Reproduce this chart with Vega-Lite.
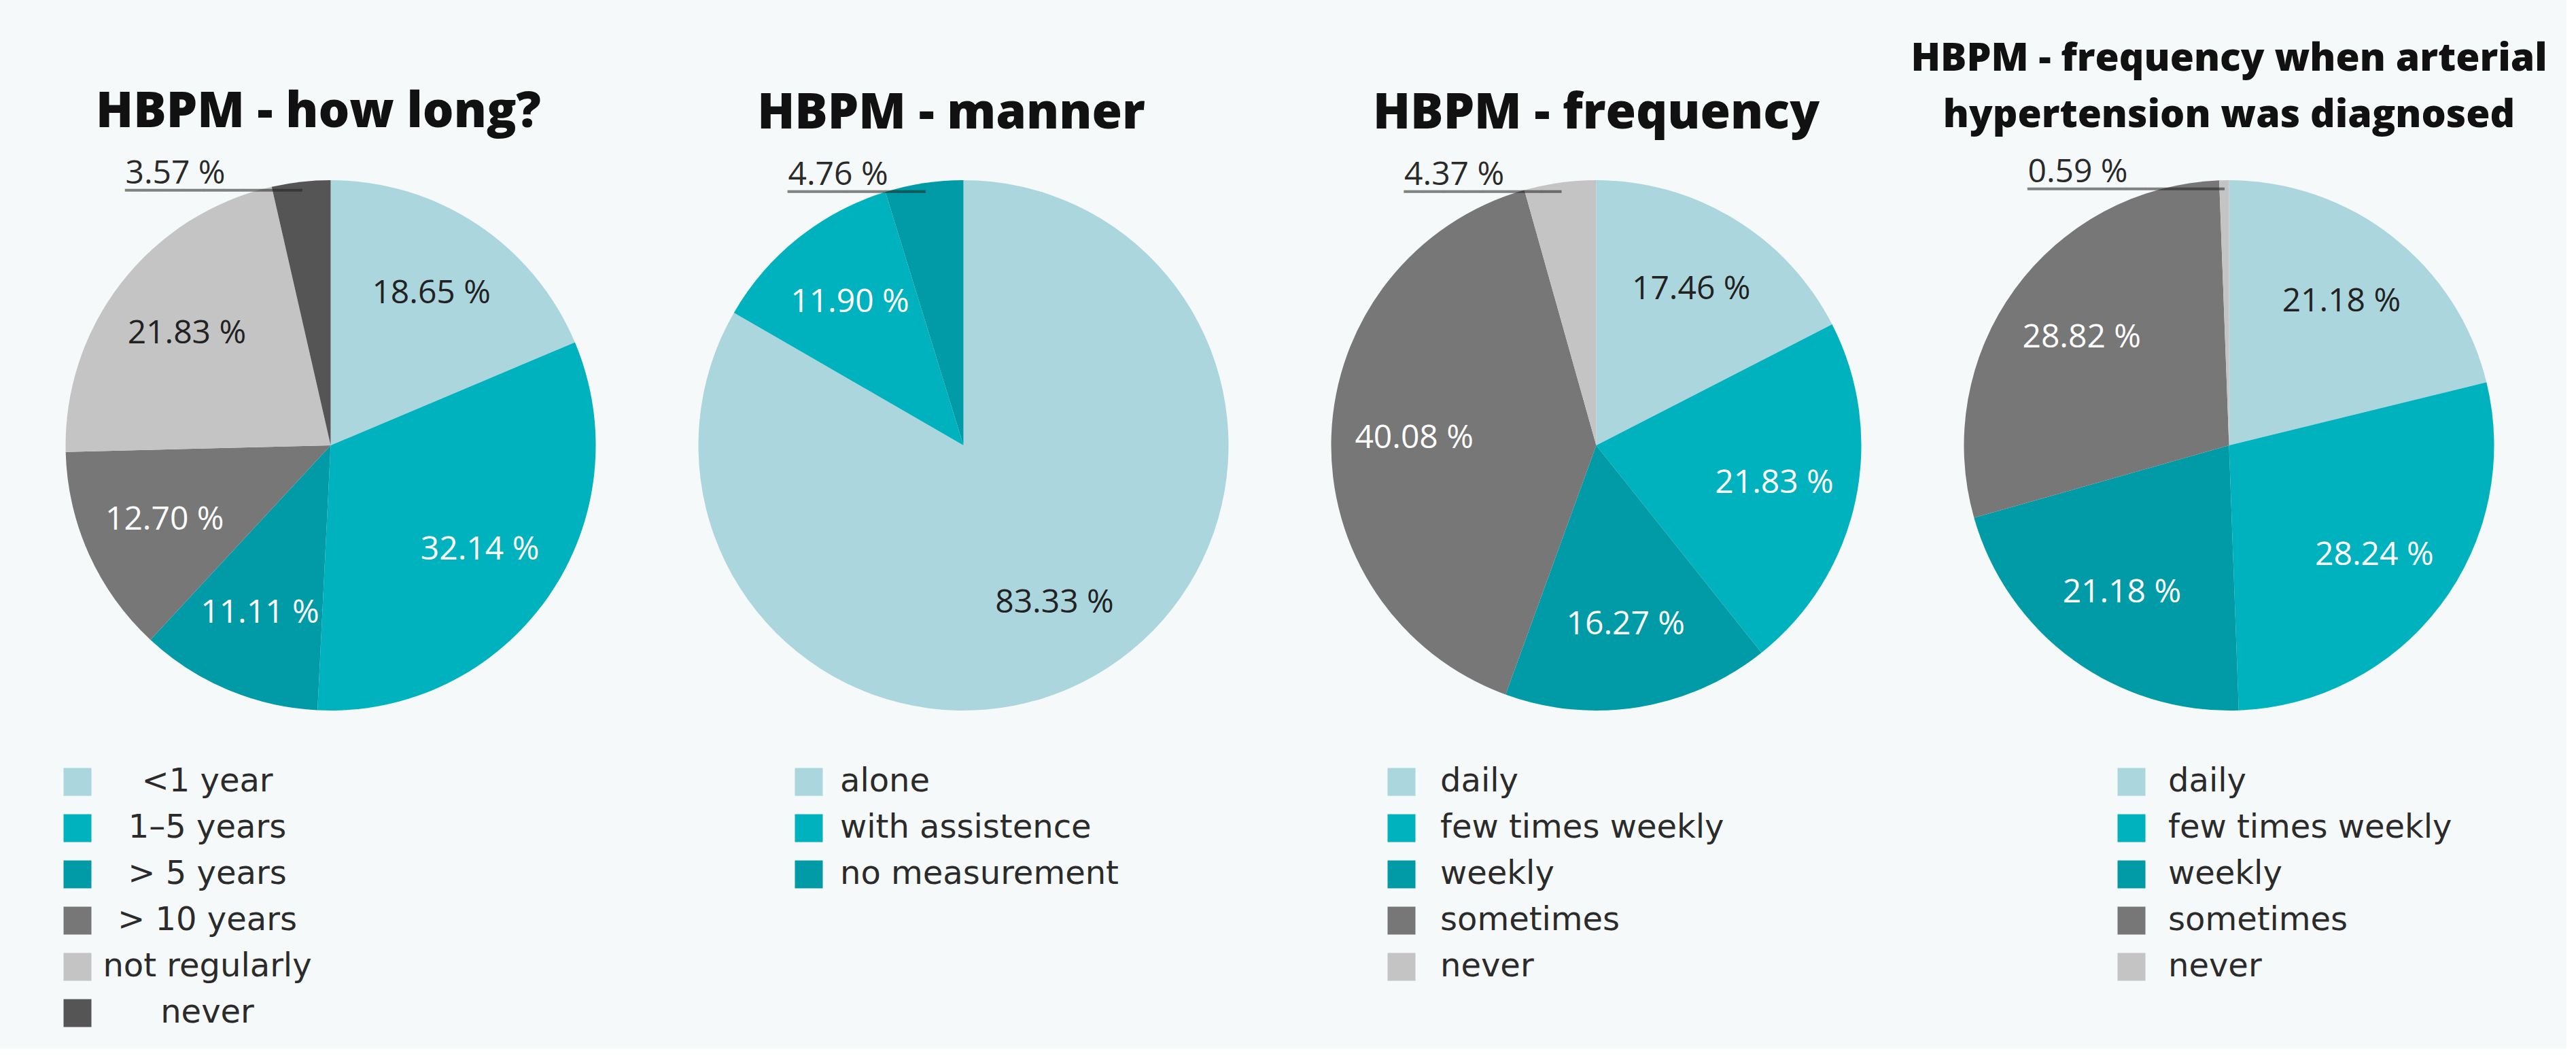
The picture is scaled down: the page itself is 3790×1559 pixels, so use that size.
{
  "$schema": "https://vega.github.io/schema/vega-lite/v6.json",
  "background": "#f6f9f9",
  "padding": {"left": 21, "top": 58, "right": 28, "bottom": 28},
  "spacing": 0,
  "bounds": "flush",
  "datasets": {
    "howlong": [
      {"k": 1, "category": "<1 year", "pct": 18.65, "label": "18.65 %"},
      {"k": 2, "category": "1–5 years", "pct": 32.14, "label": "32.14 %"},
      {"k": 3, "category": "> 5 years", "pct": 11.11, "label": "11.11 %"},
      {"k": 4, "category": "> 10 years", "pct": 12.70, "label": "12.70 %"},
      {"k": 5, "category": "not regularly", "pct": 21.83, "label": "21.83 %"},
      {"k": 6, "category": "never", "pct": 3.57, "label": "3.57 %"}
    ],
    "manner": [
      {"k": 1, "category": "alone", "pct": 83.33, "label": "83.33 %"},
      {"k": 2, "category": "with assistence", "pct": 11.90, "label": "11.90 %"},
      {"k": 3, "category": "no measurement", "pct": 4.76, "label": "4.76 %"}
    ],
    "frequency": [
      {"k": 1, "category": "daily", "pct": 17.46, "label": "17.46 %"},
      {"k": 2, "category": "few times weekly", "pct": 21.83, "label": "21.83 %"},
      {"k": 3, "category": "weekly", "pct": 16.27, "label": "16.27 %"},
      {"k": 4, "category": "sometimes", "pct": 40.08, "label": "40.08 %"},
      {"k": 5, "category": "never", "pct": 4.37, "label": "4.37 %"}
    ],
    "diagnosed": [
      {"k": 1, "category": "daily", "pct": 21.18, "label": "21.18 %"},
      {"k": 2, "category": "few times weekly", "pct": 28.24, "label": "28.24 %"},
      {"k": 3, "category": "weekly", "pct": 21.18, "label": "21.18 %"},
      {"k": 4, "category": "sometimes", "pct": 28.82, "label": "28.82 %"},
      {"k": 5, "category": "never", "pct": 0.59, "label": "0.59 %"}
    ]
  },
  "hconcat": [
    {
      "width": 931, "height": 780,
      "title": {"text": "HBPM - how long?", "dx": -18},
      "data": {"name": "howlong"},
      "encoding": {
        "theta": {"field": "pct", "type": "quantitative", "stack": true},
        "order": {"field": "k", "type": "quantitative"}
      },
      "layer": [
        {
          "mark": {"type": "arc"},
          "encoding": {
            "color": {
              "field": "category", "type": "nominal",
              "scale": {"domain": ["<1 year", "1–5 years", "> 5 years", "> 10 years", "not regularly", "never"],
                        "range": ["#acd6dd", "#00b2be", "#009ba6", "#777777", "#c4c4c4", "#555555"]},
              "legend": {"title": null, "orient": "none", "legendX": 69, "legendY": 861, "labelAlign": "center", "labelOffset": 167}
            }
          }
        },
        {
          "mark": {"type": "text", "radius": 268, "font": "Open Sans", "fontSize": 48, "align": "center", "baseline": "middle"},
          "encoding": {
            "detail": {"field": "category"},
            "text": {"condition": {"test": "datum.pct < 5", "value": ""}, "field": "label", "type": "nominal"},
            "color": {
              "field": "category", "type": "nominal",
              "scale": {"domain": ["<1 year", "1–5 years", "> 5 years", "> 10 years", "not regularly", "never"],
                        "range": ["#222222", "#ffffff", "#ffffff", "#ffffff", "#222222", "#222222"]},
              "legend": null
            }
          }
        },
        {
          "mark": {"type": "text", "radius": 375, "font": "DejaVu Sans", "fontSize": 48, "align": "right", "baseline": "middle", "color": "#222222", "opacity": 0.55},
          "encoding": {
            "detail": {"field": "category"},
            "text": {"condition": {"test": "datum.pct < 5", "value": "─────────"}, "value": ""}
          }
        },
        {
          "mark": {"type": "text", "radius": 375, "font": "Open Sans", "fontSize": 48, "align": "right", "baseline": "alphabetic", "dx": -113, "dy": -12, "color": "#2a2a2a"},
          "encoding": {
            "detail": {"field": "category"},
            "text": {"condition": {"test": "datum.pct < 5", "field": "label", "type": "nominal"}, "value": ""}
          }
        }
      ],
      "resolve": {"scale": {"color": "independent"}}
    },
    {
      "width": 931, "height": 780,
      "title": {"text": "HBPM - manner", "dx": -18},
      "data": {"name": "manner"},
      "encoding": {
        "theta": {"field": "pct", "type": "quantitative", "stack": true},
        "order": {"field": "k", "type": "quantitative"}
      },
      "layer": [
        {
          "mark": {"type": "arc"},
          "encoding": {
            "color": {
              "field": "category", "type": "nominal",
              "scale": {"domain": ["alone", "with assistence", "no measurement"],
                        "range": ["#acd6dd", "#00b2be", "#009ba6"]},
              "legend": {"title": null, "orient": "none", "legendX": 214, "legendY": 861, "labelOffset": 22}
            }
          }
        },
        {
          "mark": {"type": "text", "radius": 268, "font": "Open Sans", "fontSize": 48, "align": "center", "baseline": "middle"},
          "encoding": {
            "detail": {"field": "category"},
            "text": {"condition": {"test": "datum.pct < 5", "value": ""}, "field": "label", "type": "nominal"},
            "color": {
              "field": "category", "type": "nominal",
              "scale": {"domain": ["alone", "with assistence", "no measurement"],
                        "range": ["#222222", "#ffffff", "#222222"]},
              "legend": null
            }
          }
        },
        {
          "mark": {"type": "text", "radius": 375, "font": "DejaVu Sans", "fontSize": 48, "align": "right", "baseline": "middle", "color": "#222222", "opacity": 0.55},
          "encoding": {
            "detail": {"field": "category"},
            "text": {"condition": {"test": "datum.pct < 5", "value": "───────"}, "value": ""}
          }
        },
        {
          "mark": {"type": "text", "radius": 375, "font": "Open Sans", "fontSize": 48, "align": "right", "baseline": "alphabetic", "dx": -55, "dy": -12, "color": "#2a2a2a"},
          "encoding": {
            "detail": {"field": "category"},
            "text": {"condition": {"test": "datum.pct < 5", "field": "label", "type": "nominal"}, "value": ""}
          }
        }
      ],
      "resolve": {"scale": {"color": "independent"}}
    },
    {
      "width": 931, "height": 780,
      "title": {"text": "HBPM - frequency"},
      "data": {"name": "frequency"},
      "encoding": {
        "theta": {"field": "pct", "type": "quantitative", "stack": true},
        "order": {"field": "k", "type": "quantitative"}
      },
      "layer": [
        {
          "mark": {"type": "arc"},
          "encoding": {
            "color": {
              "field": "category", "type": "nominal",
              "scale": {"domain": ["daily", "few times weekly", "weekly", "sometimes", "never"],
                        "range": ["#acd6dd", "#00b2be", "#009ba6", "#777777", "#c4c4c4"]},
              "legend": {"title": null, "orient": "none", "legendX": 155, "legendY": 861, "labelOffset": 33}
            }
          }
        },
        {
          "mark": {"type": "text", "radius": 268, "font": "Open Sans", "fontSize": 48, "align": "center", "baseline": "middle"},
          "encoding": {
            "detail": {"field": "category"},
            "text": {"condition": {"test": "datum.pct < 5", "value": ""}, "field": "label", "type": "nominal"},
            "color": {
              "field": "category", "type": "nominal",
              "scale": {"domain": ["daily", "few times weekly", "weekly", "sometimes", "never"],
                        "range": ["#222222", "#ffffff", "#ffffff", "#ffffff", "#222222"]},
              "legend": null
            }
          }
        },
        {
          "mark": {"type": "text", "radius": 375, "font": "DejaVu Sans", "fontSize": 48, "align": "right", "baseline": "middle", "color": "#222222", "opacity": 0.55},
          "encoding": {
            "detail": {"field": "category"},
            "text": {"condition": {"test": "datum.pct < 5", "value": "────────"}, "value": ""}
          }
        },
        {
          "mark": {"type": "text", "radius": 375, "font": "Open Sans", "fontSize": 48, "align": "right", "baseline": "alphabetic", "dx": -84, "dy": -12, "color": "#2a2a2a"},
          "encoding": {
            "detail": {"field": "category"},
            "text": {"condition": {"test": "datum.pct < 5", "field": "label", "type": "nominal"}, "value": ""}
          }
        }
      ],
      "resolve": {"scale": {"color": "independent"}}
    },
    {
      "width": 931, "height": 780,
      "title": {"text": ["HBPM - frequency when arterial", "hypertension was diagnosed"], "fontSize": 57, "lineHeight": 83, "offset": 31},
      "data": {"name": "diagnosed"},
      "encoding": {
        "theta": {"field": "pct", "type": "quantitative", "stack": true},
        "order": {"field": "k", "type": "quantitative"}
      },
      "layer": [
        {
          "mark": {"type": "arc"},
          "encoding": {
            "color": {
              "field": "category", "type": "nominal",
              "scale": {"domain": ["daily", "few times weekly", "weekly", "sometimes", "never"],
                        "range": ["#acd6dd", "#00b2be", "#009ba6", "#777777", "#c4c4c4"]},
              "legend": {"title": null, "orient": "none", "legendX": 298, "legendY": 861, "labelOffset": 30}
            }
          }
        },
        {
          "mark": {"type": "text", "radius": 268, "font": "Open Sans", "fontSize": 48, "align": "center", "baseline": "middle"},
          "encoding": {
            "detail": {"field": "category"},
            "text": {"condition": {"test": "datum.pct < 5", "value": ""}, "field": "label", "type": "nominal"},
            "color": {
              "field": "category", "type": "nominal",
              "scale": {"domain": ["daily", "few times weekly", "weekly", "sometimes", "never"],
                        "range": ["#222222", "#ffffff", "#ffffff", "#ffffff", "#222222"]},
              "legend": null
            }
          }
        },
        {
          "mark": {"type": "text", "radius": 375, "font": "DejaVu Sans", "fontSize": 48, "align": "right", "baseline": "middle", "color": "#222222", "opacity": 0.55},
          "encoding": {
            "detail": {"field": "category"},
            "text": {"condition": {"test": "datum.pct < 5", "value": "──────────"}, "value": ""}
          }
        },
        {
          "mark": {"type": "text", "radius": 375, "font": "Open Sans", "fontSize": 48, "align": "right", "baseline": "alphabetic", "dx": -142, "dy": -12, "color": "#2a2a2a"},
          "encoding": {
            "detail": {"field": "category"},
            "text": {"condition": {"test": "datum.pct < 5", "field": "label", "type": "nominal"}, "value": ""}
          }
        }
      ],
      "resolve": {"scale": {"color": "independent"}}
    }
  ],
  "resolve": {"scale": {"color": "independent", "theta": "independent"}},
  "config": {
    "view": {"stroke": null},
    "title": {"font": "Open Sans", "fontWeight": 800, "fontSize": 72, "color": "#111111", "anchor": "middle", "offset": 30},
    "legend": {
      "labelFont": "DejaVu Sans", "labelFontSize": 48, "labelColor": "#2b2b2b", "labelLimit": 2000,
      "symbolType": "square", "symbolSize": 1681, "symbolStrokeWidth": 0, "symbolOpacity": 1,
      "rowPadding": 20, "padding": 0
    }
  }
}
